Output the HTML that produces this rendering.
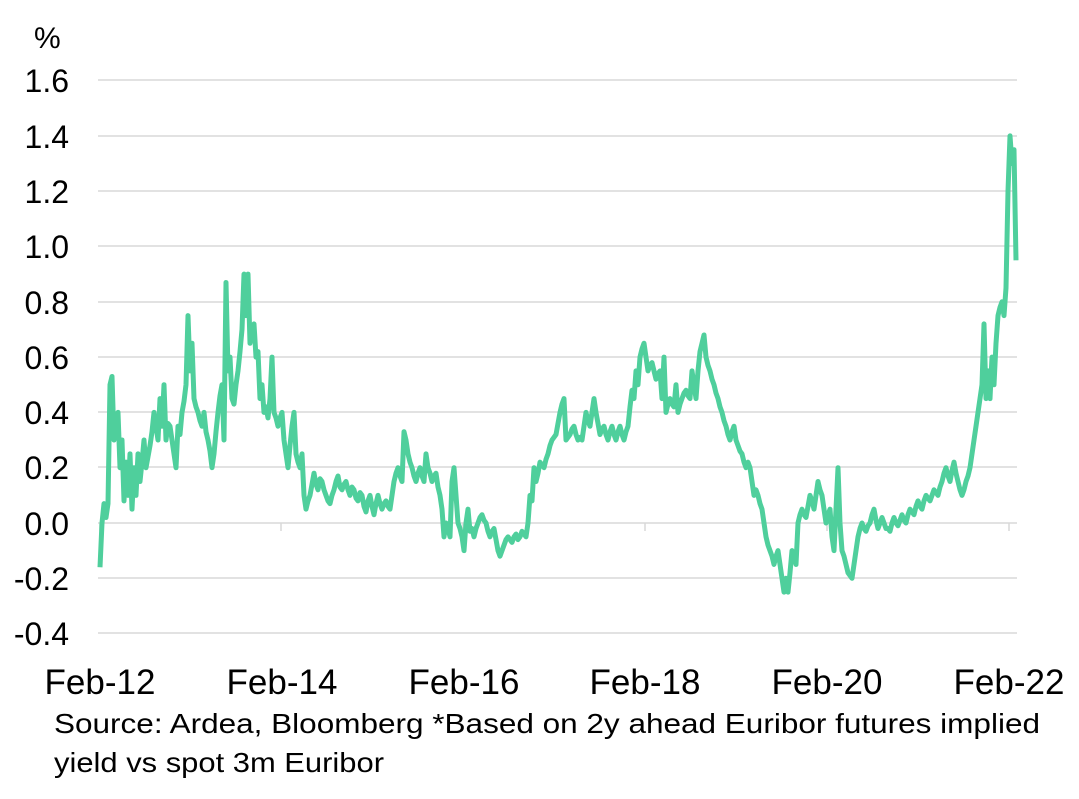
<!DOCTYPE html>
<html><head><meta charset="utf-8"><style>
html,body{margin:0;padding:0;background:#fff;}
svg text{font-family:"Liberation Sans",Arial,sans-serif;fill:#000;}
</style></head><body>
<svg width="1079" height="794" xmlns="http://www.w3.org/2000/svg">
<g stroke="#d9d9d9" stroke-width="1.5">
<line x1="98" x2="1017" y1="80" y2="80"/><line x1="98" x2="1017" y1="136" y2="136"/>
<line x1="98" x2="1017" y1="191" y2="191"/><line x1="98" x2="1017" y1="246" y2="246"/>
<line x1="98" x2="1017" y1="302" y2="302"/><line x1="98" x2="1017" y1="357" y2="357"/>
<line x1="98" x2="1017" y1="412" y2="412"/><line x1="98" x2="1017" y1="467" y2="467"/>
<line x1="98" x2="1017" y1="523" y2="523"/><line x1="98" x2="1017" y1="578" y2="578"/>
<line x1="98" x2="1017" y1="633" y2="633"/>
<line x1="100" x2="100" y1="523" y2="531"/><line x1="281" x2="281" y1="523" y2="531"/>
<line x1="463" x2="463" y1="523" y2="531"/><line x1="645" x2="645" y1="523" y2="531"/>
<line x1="827" x2="827" y1="523" y2="531"/><line x1="1009" x2="1009" y1="523" y2="531"/>
</g>
<g font-size="32" text-anchor="end">
<text x="69" y="92">1.6</text><text x="69" y="148">1.4</text><text x="69" y="203">1.2</text>
<text x="69" y="258">1.0</text><text x="69" y="314">0.8</text><text x="69" y="369">0.6</text>
<text x="69" y="424">0.4</text><text x="69" y="479">0.2</text><text x="69" y="535">0.0</text>
<text x="69" y="590">-0.2</text><text x="69" y="645">-0.4</text>
</g>
<text x="34" y="48" font-size="30">%</text>
<g font-size="35" text-anchor="middle">
<text x="100" y="694">Feb-12</text><text x="282" y="694">Feb-14</text><text x="464" y="694">Feb-16</text>
<text x="645" y="694">Feb-18</text><text x="827" y="694">Feb-20</text><text x="1009" y="694">Feb-22</text>
</g>
<text x="54" y="733" font-size="28" textLength="986" lengthAdjust="spacingAndGlyphs">Source: Ardea, Bloomberg  *Based on 2y ahead Euribor futures implied</text>
<text x="54" y="772" font-size="28" textLength="330" lengthAdjust="spacingAndGlyphs">yield vs spot 3m Euribor</text>
<g transform="translate(0,523) scale(1,-276.5)">
<path fill="none" stroke="#4fcf9c" stroke-width="5" stroke-linejoin="round" vector-effect="non-scaling-stroke" d="M100,-0.16 L102,0.0 L104,0.07 L106,0.02 L108,0.07 L110,0.5 L112,0.53 L114,0.3 L116,0.35 L118,0.4 L120,0.2 L122,0.3 L124,0.08 L126,0.22 L128,0.1 L130,0.25 L132,0.05 L134,0.2 L136,0.1 L138,0.25 L140,0.15 L142,0.22 L144,0.3 L146,0.2 L148,0.24 L150,0.28 L152,0.33 L154,0.4 L156,0.35 L158,0.3 L160,0.45 L162,0.35 L164,0.5 L166,0.3 L168,0.36 L170,0.35 L172,0.3 L174,0.25 L176,0.2 L178,0.35 L180,0.32 L182,0.4 L184,0.44 L186,0.5 L188,0.75 L190,0.55 L192,0.65 L194,0.45 L196,0.42 L198,0.4 L200,0.37 L202,0.35 L204,0.4 L206,0.33 L208,0.3 L210,0.26 L212,0.2 L214,0.25 L216,0.33 L218,0.4 L220,0.46 L222,0.5 L224,0.3 L226,0.87 L228,0.55 L230,0.6 L232,0.45 L234,0.43 L236,0.5 L238,0.55 L240,0.62 L242,0.7 L244,0.9 L246,0.75 L248,0.9 L250,0.65 L252,0.7 L254,0.72 L256,0.6 L258,0.62 L260,0.45 L262,0.5 L264,0.4 L266,0.42 L268,0.38 L270,0.45 L272,0.6 L274,0.4 L276,0.38 L278,0.35 L280,0.38 L282,0.4 L284,0.3 L286,0.25 L288,0.2 L290,0.28 L292,0.35 L294,0.4 L296,0.25 L298,0.22 L300,0.2 L302,0.25 L304,0.1 L306,0.05 L308,0.08 L310,0.1 L312,0.14 L314,0.18 L316,0.14 L318,0.12 L320,0.16 L322,0.15 L324,0.12 L326,0.1 L328,0.08 L330,0.07 L332,0.1 L334,0.12 L336,0.15 L338,0.17 L340,0.13 L342,0.12 L344,0.14 L346,0.15 L348,0.12 L350,0.1 L352,0.13 L354,0.12 L356,0.09 L358,0.08 L360,0.11 L362,0.1 L364,0.06 L366,0.04 L368,0.08 L370,0.1 L372,0.06 L374,0.03 L376,0.07 L378,0.1 L380,0.07 L382,0.05 L384,0.07 L386,0.08 L388,0.06 L390,0.05 L392,0.1 L394,0.15 L396,0.18 L398,0.2 L400,0.17 L402,0.15 L404,0.33 L406,0.3 L408,0.25 L410,0.22 L412,0.2 L414,0.17 L416,0.15 L418,0.18 L420,0.2 L422,0.17 L424,0.15 L426,0.25 L428,0.2 L430,0.18 L432,0.15 L434,0.17 L436,0.18 L438,0.13 L440,0.1 L442,0.05 L444,-0.05 L446,0.0 L448,-0.02 L450,-0.05 L452,0.15 L454,0.2 L456,0.1 L458,0.0 L460,-0.02 L462,-0.05 L464,-0.1 L466,0.0 L468,0.05 L470,-0.03 L472,-0.02 L474,-0.05 L476,-0.02 L478,0.0 L480,0.02 L482,0.03 L484,0.01 L486,0.0 L488,-0.03 L490,-0.05 L492,-0.03 L494,-0.02 L496,-0.06 L498,-0.1 L500,-0.12 L502,-0.1 L504,-0.08 L506,-0.06 L508,-0.05 L510,-0.06 L512,-0.07 L514,-0.05 L516,-0.04 L518,-0.06 L520,-0.05 L522,-0.03 L524,-0.04 L526,-0.05 L528,0.0 L530,0.1 L532,0.08 L534,0.2 L536,0.15 L538,0.18 L540,0.22 L542,0.21 L544,0.2 L546,0.23 L548,0.25 L550,0.28 L552,0.3 L554,0.31 L556,0.32 L558,0.36 L560,0.4 L562,0.43 L564,0.45 L566,0.3 L568,0.31 L570,0.32 L572,0.34 L574,0.35 L576,0.32 L578,0.3 L580,0.31 L582,0.3 L584,0.35 L586,0.4 L588,0.37 L590,0.35 L592,0.4 L594,0.45 L596,0.4 L598,0.36 L600,0.32 L602,0.34 L604,0.35 L606,0.32 L608,0.3 L610,0.33 L612,0.35 L614,0.32 L616,0.3 L618,0.33 L620,0.35 L622,0.32 L624,0.3 L626,0.33 L628,0.35 L630,0.42 L632,0.48 L634,0.45 L636,0.55 L638,0.5 L640,0.6 L642,0.63 L644,0.65 L646,0.6 L648,0.55 L650,0.57 L652,0.58 L654,0.55 L656,0.52 L658,0.54 L660,0.55 L662,0.45 L664,0.6 L666,0.4 L668,0.43 L670,0.45 L672,0.43 L674,0.42 L676,0.5 L678,0.4 L680,0.43 L682,0.45 L684,0.47 L686,0.48 L688,0.46 L690,0.45 L692,0.55 L694,0.5 L696,0.45 L698,0.55 L700,0.62 L702,0.65 L704,0.68 L706,0.6 L708,0.57 L710,0.55 L712,0.52 L714,0.5 L716,0.47 L718,0.45 L720,0.42 L722,0.4 L724,0.37 L726,0.35 L728,0.32 L730,0.3 L732,0.33 L734,0.35 L736,0.3 L738,0.28 L740,0.26 L742,0.25 L744,0.22 L746,0.2 L748,0.22 L750,0.2 L752,0.15 L754,0.1 L756,0.12 L758,0.1 L760,0.07 L762,0.05 L764,0.0 L766,-0.05 L768,-0.08 L770,-0.1 L772,-0.12 L774,-0.15 L776,-0.12 L778,-0.1 L780,-0.15 L782,-0.2 L784,-0.25 L786,-0.2 L788,-0.25 L790,-0.18 L792,-0.1 L794,-0.12 L796,-0.15 L798,0.0 L800,0.03 L802,0.05 L804,0.03 L806,0.02 L808,0.06 L810,0.1 L812,0.08 L814,0.05 L816,0.1 L818,0.15 L820,0.12 L822,0.1 L824,0.05 L826,0.0 L828,0.03 L830,0.05 L832,-0.05 L834,-0.1 L836,0.05 L838,0.2 L840,0.0 L842,-0.1 L844,-0.12 L846,-0.15 L848,-0.18 L850,-0.19 L852,-0.2 L854,-0.15 L856,-0.1 L858,-0.05 L860,-0.02 L862,0.0 L864,-0.02 L866,-0.03 L868,-0.01 L870,0.0 L872,0.03 L874,0.05 L876,0.01 L878,-0.02 L880,0.0 L882,0.02 L884,0.0 L886,-0.02 L888,-0.02 L890,-0.03 L892,0.0 L894,0.02 L896,0.0 L898,-0.01 L900,0.01 L902,0.03 L904,0.01 L906,0.0 L908,0.03 L910,0.05 L912,0.04 L914,0.03 L916,0.06 L918,0.08 L920,0.06 L922,0.05 L924,0.08 L926,0.1 L928,0.09 L930,0.08 L932,0.1 L934,0.12 L936,0.11 L938,0.1 L940,0.13 L942,0.15 L944,0.18 L946,0.2 L948,0.17 L950,0.15 L952,0.19 L954,0.22 L956,0.18 L958,0.15 L960,0.12 L962,0.1 L964,0.12 L966,0.15 L968,0.17 L970,0.2 L972,0.25 L974,0.3 L976,0.35 L978,0.4 L980,0.45 L982,0.5 L984,0.72 L986,0.45 L988,0.55 L990,0.45 L992,0.6 L994,0.5 L996,0.65 L998,0.75 L1000,0.78 L1002,0.8 L1004,0.75 L1006,0.85 L1008,1.2 L1010,1.4 L1012,1.3 L1014,1.35 L1016,0.95"/>
</g>
</svg>
</body></html>
